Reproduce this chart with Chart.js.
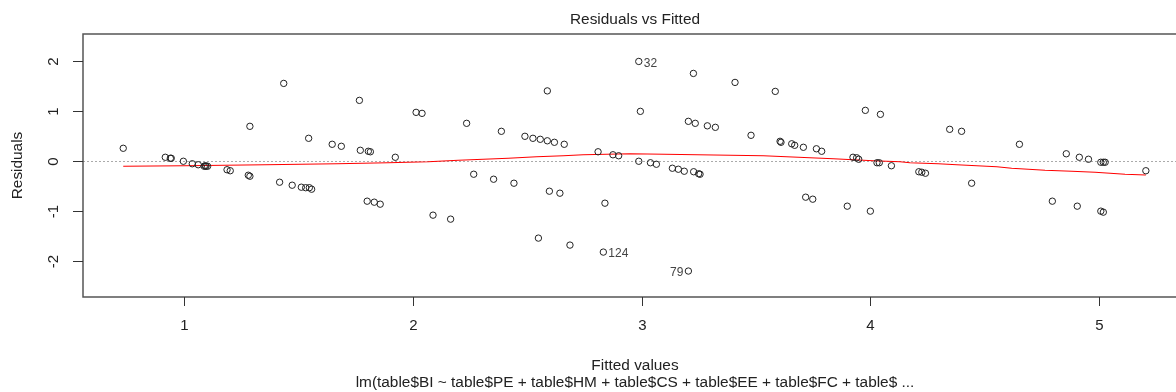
<!DOCTYPE html>
<html>
<head>
<meta charset="utf-8">
<script src="https://cdn.jsdelivr.net/npm/chart.js@4"></script>
<style>
  body { margin: 0; background: #fff; }
  canvas { display: block; }
</style>
</head>
<body>
<canvas id="chart" width="1176" height="392"></canvas>
<script>
const fittedValues = [
  0.733, 0.917, 0.939, 0.943, 0.996, 1.035, 1.061, 1.087, 1.095, 1.102,
  1.092, 1.187, 1.201, 1.280, 1.287, 1.287, 1.435, 1.417, 1.472, 1.512,
  1.531, 1.547, 1.557, 1.544, 1.647, 1.687, 1.766, 1.770, 1.805, 1.814,
  1.800, 1.831, 1.857, 1.923, 2.014, 2.040, 2.088, 2.165, 2.235, 2.266,
  2.353, 2.387, 2.442, 2.490, 2.525, 2.557, 2.588, 2.619, 2.662, 2.549,
  2.588, 2.597, 2.643, 2.687, 2.810, 2.840, 2.875, 2.900, 2.833, 2.988,
  2.995, 2.988, 3.039, 3.065, 3.135, 3.161, 3.187, 3.228, 3.250, 3.256,
  3.227, 3.205, 3.235, 3.288, 3.323, 3.205, 3.409, 3.479, 3.585, 3.606,
  3.610, 3.657, 3.670, 3.708, 3.765, 3.788, 3.718, 3.749, 3.900, 3.925,
  3.941, 3.950, 3.979, 4.001, 4.030, 4.040, 4.045, 4.093, 4.213, 4.226,
  4.242, 4.348, 4.400, 4.444, 4.653, 4.797, 4.858, 4.906, 4.915, 4.955,
  5.009, 5.020, 5.028, 5.009, 5.020, 5.206
];
const residuals = [
  0.26, 0.08, 0.06, 0.06, 0.00, -0.05, -0.07, -0.10, -0.10, -0.10,
  -0.09, -0.17, -0.19, -0.28, -0.30, 0.70, 1.56, -0.42, -0.48, -0.52,
  -0.53, -0.53, -0.56, 0.46, 0.34, 0.30, 1.22, 0.22, 0.20, 0.19,
  -0.80, -0.82, -0.86, 0.08, 0.98, 0.96, -1.08, -1.16, 0.76, -0.26,
  -0.36, 0.60, -0.44, 0.50, 0.46, 0.44, 0.41, 0.38, 0.34, -1.54,
  1.41, -0.60, -0.64, -1.68, 0.19, -0.84, 0.13, 0.11, -1.82, 2.00,
  1.00, 0.00, -0.03, -0.06, -0.14, -0.16, -0.20, -0.21, -0.25, -0.26,
  1.76, 0.80, 0.76, 0.71, 0.68, -2.20, 1.58, 0.52, 1.40, 0.40,
  0.38, 0.35, 0.32, 0.28, 0.25, 0.20, -0.72, -0.76, -0.90, 0.08,
  0.07, 0.04, 1.02, -1.00, -0.03, -0.03, 0.94, -0.09, -0.21, -0.22,
  -0.24, 0.64, 0.60, -0.44, 0.34, -0.80, 0.15, -0.90, 0.08, 0.04,
  -0.02, -0.02, -0.02, -1.00, -1.02, -0.19
];
const lowessX = [
  0.733, 1.000, 1.353, 1.667, 1.890, 2.067, 2.199, 2.308, 2.417, 2.541,
  2.658, 2.745, 2.950, 3.100, 3.533, 3.635, 3.737, 3.839, 3.926, 4.014,
  4.131, 4.174, 4.298, 4.379, 4.554, 4.619, 4.765, 4.882, 4.984, 5.115, 5.206
];
const lowessY = [
  -0.10, -0.09, -0.07, -0.05, -0.03, -0.01, 0.02, 0.04, 0.06, 0.09,
  0.11, 0.13, 0.15, 0.14, 0.11, 0.09, 0.07, 0.05, 0.03, 0.01,
  -0.01, -0.03, -0.05, -0.07, -0.11, -0.14, -0.18, -0.20, -0.22, -0.26, -0.275
];
const xTicks = [1, 2, 3, 4, 5];
const yTicks = [-2, -1, 0, 1, 2];
const idLabels = ["32", "124", "79"];
const idIndex = [59, 58, 75];
const idSide = ["right", "right", "left"];

const titleText = "Residuals vs Fitted";
const xTitle = "Fitted values";
const yTitle = "Residuals";
const subTitle = "lm(table$BI ~ table$PE + table$HM + table$CS + table$EE + table$FC + table$ ...";

const FONT = "Arial, 'Liberation Sans', sans-serif";

const pointData = fittedValues.map((x, i) => ({ x: x, y: residuals[i] }));
const lowessData = lowessX.map((x, i) => ({ x: x, y: lowessY[i] }));

const zeroLine = {
  id: "zeroLine",
  beforeDatasetsDraw(chart) {
    const { ctx, chartArea } = chart;
    const y = Math.round(chart.scales.y.getPixelForValue(0)) + 0.5;
    ctx.save();
    ctx.strokeStyle = "#aaa";
    ctx.lineWidth = 1;
    ctx.setLineDash([2, 2]);
    ctx.beginPath();
    ctx.moveTo(chartArea.left, y);
    ctx.lineTo(chart.width, y);
    ctx.stroke();
    ctx.restore();
  }
};

const baseAxes = {
  id: "baseAxes",
  afterDraw(chart) {
    const { ctx, chartArea } = chart;
    const xs = chart.scales.x;
    const ys = chart.scales.y;
    ctx.save();

    // frame (right edge runs off the page)
    ctx.strokeStyle = "#555";
    ctx.lineWidth = 1.5;
    ctx.beginPath();
    ctx.moveTo(chart.width + 5, chartArea.top);
    ctx.lineTo(chartArea.left, chartArea.top);
    ctx.lineTo(chartArea.left, chartArea.bottom);
    ctx.lineTo(chart.width + 5, chartArea.bottom);
    ctx.stroke();

    ctx.fillStyle = "#222";
    ctx.strokeStyle = "#333";
    ctx.lineWidth = 1;

    // x ticks
    ctx.font = "15px " + FONT;
    ctx.textAlign = "center";
    ctx.textBaseline = "middle";
    xTicks.forEach(v => {
      const px = Math.round(xs.getPixelForValue(v)) + 0.5;
      ctx.beginPath();
      ctx.moveTo(px, chartArea.bottom);
      ctx.lineTo(px, chartArea.bottom + 9);
      ctx.stroke();
      ctx.fillText(String(v), px, chartArea.bottom + 29);
    });

    // y ticks, labels parallel to the axis
    yTicks.forEach(v => {
      const py = Math.round(ys.getPixelForValue(v)) + 0.5;
      ctx.beginPath();
      ctx.moveTo(chartArea.left, py);
      ctx.lineTo(chartArea.left - 10, py);
      ctx.stroke();
      ctx.save();
      ctx.translate(chartArea.left - 29, py);
      ctx.rotate(-Math.PI / 2);
      ctx.fillText(String(v), 0, 0);
      ctx.restore();
    });

    // titles
    const cx = 635;
    ctx.font = "15.4px " + FONT;
    ctx.fillText(titleText, cx, 20);
    ctx.fillText(xTitle, cx, 366);
    ctx.fillText(subTitle, cx, 383);
    ctx.save();
    ctx.translate(18, (chartArea.top + chartArea.bottom) / 2);
    ctx.rotate(-Math.PI / 2);
    ctx.fillText(yTitle, 0, 0);
    ctx.restore();

    // identified points
    ctx.font = "12px " + FONT;
    ctx.fillStyle = "#444";
    idIndex.forEach((idx, k) => {
      const px = xs.getPixelForValue(fittedValues[idx]);
      const py = ys.getPixelForValue(residuals[idx]);
      if (idSide[k] === "right") {
        ctx.textAlign = "left";
        ctx.fillText(idLabels[k], px + 5, py + 2);
      } else {
        ctx.textAlign = "right";
        ctx.fillText(idLabels[k], px - 5, py + 2);
      }
    });

    ctx.restore();
  }
};

new Chart(document.getElementById("chart"), {
  type: "scatter",
  data: {
    datasets: [
      {
        data: pointData,
        pointStyle: "circle",
        pointRadius: 3.2,
        pointBorderWidth: 1,
        pointBorderColor: "#222",
        pointBackgroundColor: "rgba(0,0,0,0)",
        showLine: false
      },
      {
        data: lowessData,
        showLine: true,
        borderColor: "#ff0000",
        borderWidth: 1.2,
        pointRadius: 0,
        tension: 0
      }
    ]
  },
  options: {
    responsive: false,
    animation: false,
    layout: { padding: { left: 83, top: 34, right: 0, bottom: 95 } },
    scales: {
      x: { type: "linear", min: 0.557, max: 5.316, display: false },
      y: { type: "linear", min: -2.72, max: 2.55, display: false }
    },
    plugins: {
      legend: { display: false },
      tooltip: { enabled: false }
    }
  },
  plugins: [zeroLine, baseAxes]
});
</script>
</body>
</html>
